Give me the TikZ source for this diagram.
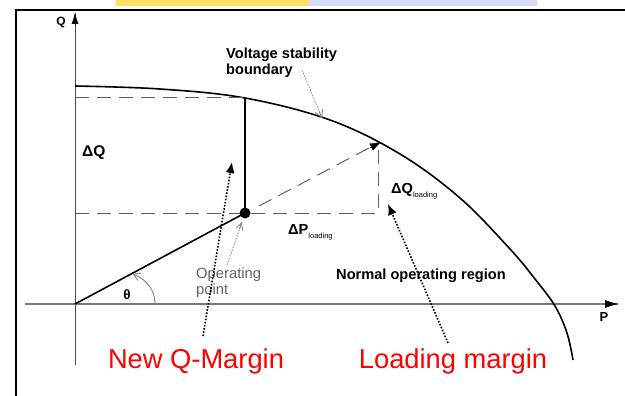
\documentclass[tikz,border=0pt]{standalone}
\usepackage{fontspec}
\setmainfont{Liberation Sans}
\usetikzlibrary{arrows.meta,calc}
\definecolor{axisgray}{HTML}{777777}
\definecolor{dashgray}{HTML}{606060}
\definecolor{bary}{HTML}{FFE066}
\definecolor{barb}{HTML}{D3DDF7}
\tikzset{
  lbl/.style={font=\fontsize{14.6}{15.5}\selectfont\bfseries, inner sep=0pt},
  redlbl/.style={font=\fontsize{27.3}{28}\selectfont, text=red, inner sep=0pt},
  dsh/.style={dashgray, line width=1pt, dash pattern=on 14pt off 8pt},
  dotarrow/.style={line width=1.6pt, dash pattern=on 1.6pt off 1.6pt, -{Latex[length=11pt,width=9pt]}},
  thinarrow/.style={gray, line width=0.8pt, dash pattern=on 1.5pt off 1.5pt},
}
\begin{document}
\begin{tikzpicture}[x=1pt,y=-1pt]
\useasboundingbox (0,0) rectangle (625,396);
% top bars
\fill[bary] (116,0) rectangle (309,6);
\fill[barb] (309,0) rectangle (537,6);
% frame
\draw[line width=2pt] (16,396) -- (16,10) -- (625,10);
% coordinates
\coordinate (O) at (75,304);
\coordinate (qtop) at (75,13);
\coordinate (qbot) at (75,365);
\coordinate (pleft) at (25,304);
\coordinate (pright) at (618,304);
\coordinate (opp) at (245,213);
\coordinate (top) at (245,98);
\coordinate (dqleft) at (75,98);
\coordinate (dpleft) at (75,213);
\coordinate (corner) at (378,213);
\coordinate (cornertop) at (378,148);
\coordinate (tgt) at (381,142);
% axes
\draw[black!70, line width=1pt] (qbot) -- (qtop);
\draw[-{Latex[length=11pt,width=7pt]}, black] ($(qtop)+(0,12)$) -- (qtop);
\draw[axisgray, line width=1.5pt] (pleft) -- (pright);
\draw[-{Latex[length=13pt,width=8pt]}, black] ($(pright)+(-12,0)$) -- (pright);
\node[lbl, font=\fontsize{12}{12}\selectfont\bfseries] (qlbl) at (61,22) {Q};
\node[lbl, font=\fontsize{13}{13}\selectfont\bfseries] (plbl) at (604,317) {P};
% boundary curve
\draw[line width=1.6pt] plot[smooth, tension=0.6] coordinates {(75,86) (160,89) (245,98) (330,120) (400,154) (460,198) (510,249) (535,279) (555,306) (567,333) (573,360)};
% dashed lines
\draw[dsh] (dqleft) -- (top);
\draw[dsh] (dpleft) -- (corner) -- (cornertop);
\draw[dsh] ($(opp)+(14,-7)$) -- ($(tgt)+(-12,6)$);
\draw[-{Latex[length=11pt,width=8pt]}] ($(tgt)+(-11,5.8)$) -- (tgt);
% solid lines
\draw[line width=1.6pt] (O) -- (opp);
\draw[line width=1.8pt] (opp) -- (top);
\fill (opp) circle (5.5pt);
% theta
\draw[gray, line width=0.9pt, -{Straight Barb[length=6pt,width=8pt]}] (155,304) .. controls (155,290) and (147,280) .. (133,274);
\node[lbl, font=\fontsize{13.5}{13.5}\selectfont\bfseries] (theta) at (127,295) {θ};
% labels
\node[lbl, font=\fontsize{15.5}{16}\selectfont\bfseries, anchor=west] (dq) at (82,153) {ΔQ};
\node[lbl, anchor=west] (dpl) at (288,232) {ΔP\raisebox{-4pt}{\fontsize{7.5}{8}\selectfont\mdseries loading}};
\node[lbl, anchor=west] (dql) at (391,191) {ΔQ\raisebox{-4pt}{\fontsize{7.5}{8}\selectfont\mdseries loading}};
\node[lbl, anchor=north west, align=left] (vsb) at (226,48) {Voltage stability\\boundary};
\node[lbl] (nor) at (421,276) {Normal operating region};
\node[inner sep=0pt, align=left, text=black!62, font=\fontsize{14.8}{16}\selectfont, anchor=north west] (opt) at (196,268) {Operating\\point};
\coordinate (vsbtail) at (302,70);
\coordinate (vsbtip) at (322,118);
\draw[thinarrow] (vsbtail) -- (vsbtip);
\draw[gray, line width=0.8pt, -{Straight Barb[length=7pt,width=8pt]}] ($(vsbtip)+(-3,-7)$) -- (vsbtip);
\coordinate (opttail) at (227,265);
\coordinate (opttip) at (242,222);
\draw[thinarrow] (opttail) -- (opttip);
\draw[gray, line width=0.8pt, -{Straight Barb[length=7pt,width=7pt]}] ($(opttip)+(-2.5,7)$) -- (opttip);
% red labels and arrows
\node[redlbl] (nqm) at (196,361) {New Q-Margin};
\node[redlbl] (lm) at (453,361) {Loading margin};
\coordinate (nqmtail) at (203,336);
\coordinate (nqmtip) at (232,162);
\coordinate (lmtail) at (448,343);
\coordinate (lmtip) at (388,204);
\draw[dotarrow] (nqmtail) -- (nqmtip);
\draw[dotarrow] (lmtail) -- (lmtip);
\end{tikzpicture}
\end{document}
